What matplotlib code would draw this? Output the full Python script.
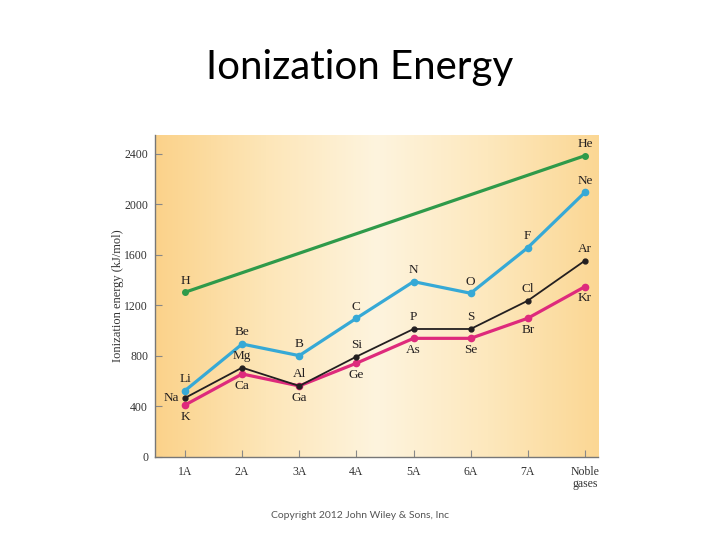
import numpy as np
import matplotlib
matplotlib.use('Agg')
import matplotlib.pyplot as plt
from matplotlib.colors import LinearSegmentedColormap

# Groups on the x axis
groups = ['1A', '2A', '3A', '4A', '5A', '6A', '7A', 'Noble\ngases']

# Period 1 (H, He) sits at 1A and Noble gases only
period1_x = [0, 7]
period1_names = ['H', 'He']
period1_ie = [1302, 2383]

period2_names = ['Li', 'Be', 'B', 'C', 'N', 'O', 'F', 'Ne']
period2_ie = [523, 892, 800, 1096, 1386, 1294, 1655, 2093]

period3_names = ['Na', 'Mg', 'Al', 'Si', 'P', 'S', 'Cl', 'Ar']
period3_ie = [465, 705, 560, 792, 1011, 1011, 1235, 1552]

period4_names = ['K', 'Ca', 'Ga', 'Ge', 'As', 'Se', 'Br', 'Kr']
period4_ie = [409, 655, 560, 740, 937, 937, 1096, 1346]

# label placement: 'a' above, 'b' below, 'l' left
period2_pos = ['a'] * 8
period3_pos = ['l', 'a', 'a', 'a', 'a', 'a', 'a', 'a']
period4_pos = ['b'] * 8

fig = plt.figure(figsize=(7.2, 5.4), dpi=100)
fig.patch.set_facecolor('white')
ax = fig.add_axes([0.2153, 0.1543, 0.6153, 0.5957])

x_lo, x_hi = -0.525, 7.23
y_lo, y_hi = 0, 2547

# orange -> cream -> orange background
cmap = LinearSegmentedColormap.from_list(
    'bg', ['#fbd28a', '#fde6b8', '#fef4de', '#fde8bd', '#fbd794'])
grad = np.linspace(0, 1, 256).reshape(1, -1)
ax.imshow(grad, aspect='auto', cmap=cmap, extent=[x_lo, x_hi, y_lo, y_hi],
          zorder=0)

xs = np.arange(8)
ax.plot(period1_x, period1_ie, color='#2f9a4a', lw=2.3, marker='o', ms=4, zorder=3)
ax.plot(xs, period2_ie, color='#36a9d6', lw=2.3, marker='o', ms=4.5, zorder=3)
ax.plot(xs, period3_ie, color='#231f20', lw=1.3, marker='o', ms=3.5, zorder=4)
ax.plot(xs, period4_ie, color='#de2a7c', lw=2.3, marker='o', ms=4.5, zorder=3)

lab_font = dict(family='Liberation Serif', fontsize=9.5, color='#231f20')


def put_labels(xv, yv, names, pos):
    for x, y, n, p in zip(xv, yv, names, pos):
        if p == 'a':
            ax.annotate(n, (x, y), xytext=(0, 4), textcoords='offset points',
                        ha='center', va='bottom', **lab_font)
        elif p == 'b':
            ax.annotate(n, (x, y), xytext=(0, -4), textcoords='offset points',
                        ha='center', va='top', **lab_font)
        else:
            ax.annotate(n, (x, y), xytext=(-4, 0), textcoords='offset points',
                        ha='right', va='center', **lab_font)


put_labels(period1_x, period1_ie, period1_names, ['a', 'a'])
put_labels(xs, period2_ie, period2_names, period2_pos)
put_labels(xs, period3_ie, period3_names, period3_pos)
put_labels(xs, period4_ie, period4_names, period4_pos)

ax.set_xlim(x_lo, x_hi)
ax.set_ylim(y_lo, y_hi)
ax.set_xticks(xs)
ax.set_xticklabels(groups, family='Liberation Serif', fontsize=8.5, color='#333333',
                   linespacing=0.9)
ax.set_yticks([0, 400, 800, 1200, 1600, 2000, 2400])
ax.set_yticklabels(['0', '400', '800', '1200', '1600', '2000', '2400'],
                   family='Liberation Serif', fontsize=8.5, color='#333333')
ax.tick_params(axis='both', direction='in', length=5, width=0.8, color='#888888',
               pad=5)
ax.tick_params(axis='x', pad=7)
ax.set_ylabel('Ionization energy (kJ/mol)', family='Liberation Serif', fontsize=9,
              color='#333333', labelpad=0)

for side in ['top', 'right']:
    ax.spines[side].set_visible(False)
for side in ['left', 'bottom']:
    ax.spines[side].set_color('#777777')
    ax.spines[side].set_linewidth(1.0)

fig.text(0.5, 0.875, 'Ionization Energy', family='Lato', fontsize=29,
         ha='center', va='center', color='black')
fig.text(0.5, 0.046, 'Copyright 2012 John Wiley & Sons, Inc', family='Lato',
         fontsize=7.5, ha='center', va='center', color='#555555')

fig.savefig('out.png', dpi=100)
